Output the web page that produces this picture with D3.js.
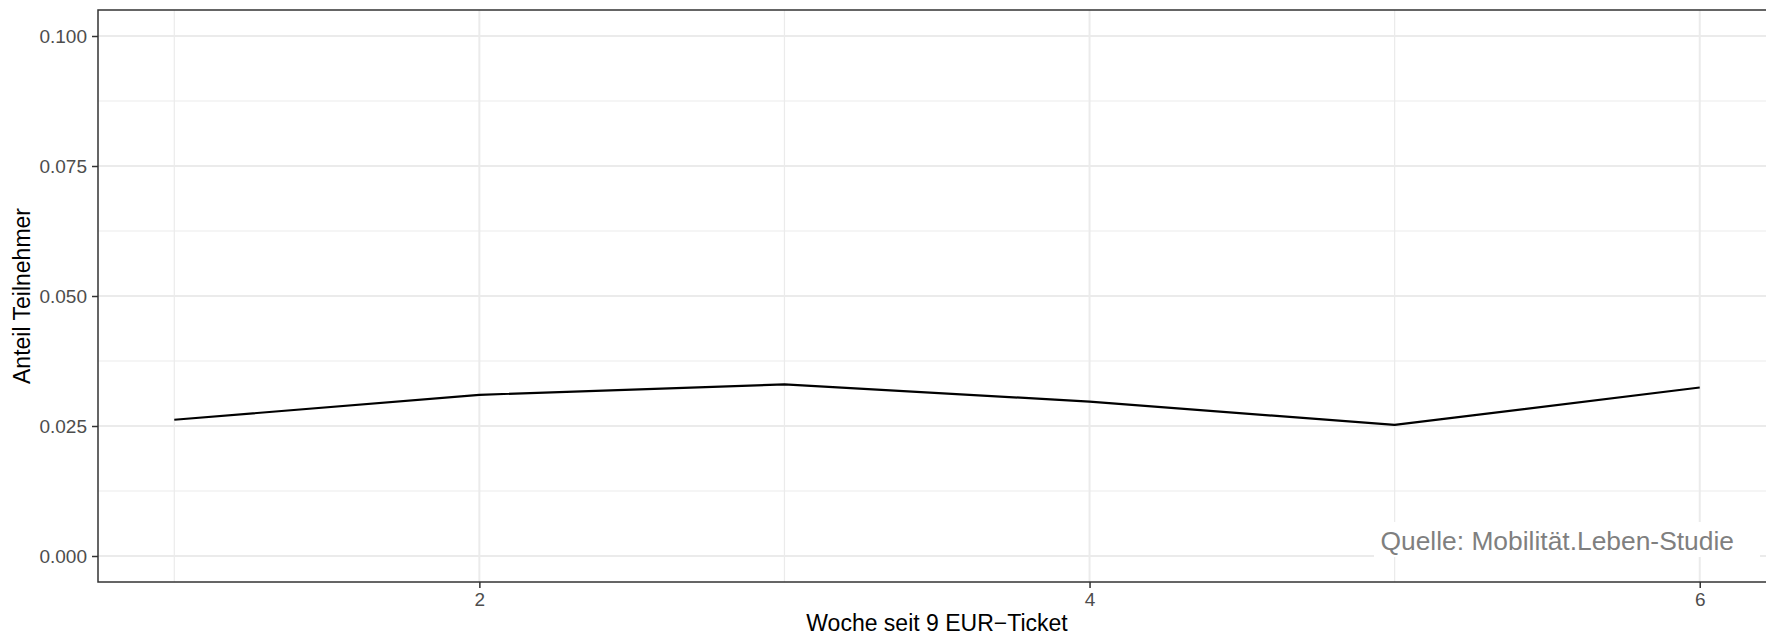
<!DOCTYPE html>
<html>
<head>
<meta charset="utf-8">
<script src="https://cdn.jsdelivr.net/npm/d3@7"></script>
<style>
  html, body { margin: 0; padding: 0; background: #fff; }
  svg { display: block; font-family: "Liberation Sans", Arial, Helvetica, sans-serif; }
</style>
</head>
<body>
<svg id="chart" width="1766" height="635"></svg>
<script>
const weeks = [1, 2, 3, 4, 5, 6];
const share = [0.0262, 0.0310, 0.0330, 0.0297, 0.0252, 0.0324];
const xMajorTicks = [2, 4, 6];
const xMinorTicks = [1, 3, 5];
const yMajorTicks = [0, 0.025, 0.05, 0.075, 0.1];
const yMinorTicks = [0.0125, 0.0375, 0.0625, 0.0875];
const yTickLabels = ["0.000", "0.025", "0.050", "0.075", "0.100"];
const xTitle = "Woche seit 9 EUR\u2212Ticket";
const yTitle = "Anteil Teilnehmer";
const sourceNote = "Quelle: Mobilität.Leben-Studie";

const W = 1766, H = 635;
const panel = { left: 98, right: 1776, top: 10, bottom: 582 };

const svg = d3.select("#chart");
const x = d3.scaleLinear().domain([0.75, 6.25]).range([panel.left, panel.right]);
const y = d3.scaleLinear().domain([-0.005, 0.105]).range([panel.bottom, panel.top]);

svg.append("rect").attr("x", panel.left).attr("y", panel.top)
  .attr("width", panel.right - panel.left).attr("height", panel.bottom - panel.top)
  .attr("fill", "#fff");

const grid = svg.append("g");
grid.selectAll(".ymin").data(yMinorTicks).enter().append("line")
  .attr("x1", panel.left).attr("x2", panel.right)
  .attr("y1", d => y(d)).attr("y2", d => y(d))
  .attr("stroke", "#EBEBEB").attr("stroke-width", 1.2);
grid.selectAll(".xmin").data(xMinorTicks).enter().append("line")
  .attr("y1", panel.top).attr("y2", panel.bottom)
  .attr("x1", d => x(d)).attr("x2", d => x(d))
  .attr("stroke", "#EBEBEB").attr("stroke-width", 1.2);
grid.selectAll(".ymaj").data(yMajorTicks).enter().append("line")
  .attr("x1", panel.left).attr("x2", panel.right)
  .attr("y1", d => y(d)).attr("y2", d => y(d))
  .attr("stroke", "#EBEBEB").attr("stroke-width", 2);
grid.selectAll(".xmaj").data(xMajorTicks).enter().append("line")
  .attr("y1", panel.top).attr("y2", panel.bottom)
  .attr("x1", d => x(d)).attr("x2", d => x(d))
  .attr("stroke", "#EBEBEB").attr("stroke-width", 2);

const noteRight = x(6.25) - 42;
const noteBaseline = y(0) - 6;
svg.append("rect")
  .attr("x", noteRight - 360).attr("y", noteBaseline - 28)
  .attr("width", 386).attr("height", 35)
  .attr("fill", "#fff");
svg.append("text")
  .attr("x", noteRight).attr("y", noteBaseline)
  .attr("text-anchor", "end")
  .attr("font-size", 26.4).attr("fill", "#7F7F7F")
  .text(sourceNote);

const line = d3.line().x((d, i) => x(weeks[i])).y(d => y(d));
svg.append("path").datum(share)
  .attr("d", line)
  .attr("fill", "none").attr("stroke", "#000").attr("stroke-width", 2.2)
  .attr("stroke-linejoin", "round");

svg.append("rect").attr("x", panel.left).attr("y", panel.top)
  .attr("width", panel.right - panel.left).attr("height", panel.bottom - panel.top)
  .attr("fill", "none").attr("stroke", "#333333").attr("stroke-width", 1.5);

const yAxis = d3.axisLeft(y).tickValues(yMajorTicks)
  .tickFormat((d, i) => yTickLabels[i]).tickSize(6).tickPadding(5);
const gy = svg.append("g").attr("transform", `translate(${panel.left},0)`).call(yAxis);
gy.select(".domain").remove();
gy.selectAll(".tick line").attr("stroke", "#333333").attr("stroke-width", 1.5);
gy.selectAll(".tick text").attr("fill", "#4D4D4D").attr("font-size", 19)
  .attr("font-family", "Liberation Sans, Arial, sans-serif");

const xAxis = d3.axisBottom(x).tickValues(xMajorTicks).tickFormat(d3.format("d"))
  .tickSize(6).tickPadding(5);
const gx = svg.append("g").attr("transform", `translate(0,${panel.bottom})`).call(xAxis);
gx.select(".domain").remove();
gx.selectAll(".tick line").attr("stroke", "#333333").attr("stroke-width", 1.5);
gx.selectAll(".tick text").attr("fill", "#4D4D4D").attr("font-size", 19)
  .attr("font-family", "Liberation Sans, Arial, sans-serif");

svg.append("text")
  .attr("x", (panel.left + panel.right) / 2).attr("y", 631)
  .attr("text-anchor", "middle").attr("font-size", 23).attr("fill", "#000")
  .text(xTitle);
svg.append("text")
  .attr("transform", `translate(30,${(panel.top + panel.bottom) / 2}) rotate(-90)`)
  .attr("text-anchor", "middle").attr("font-size", 23).attr("fill", "#000")
  .text(yTitle);
</script>
</body>
</html>
